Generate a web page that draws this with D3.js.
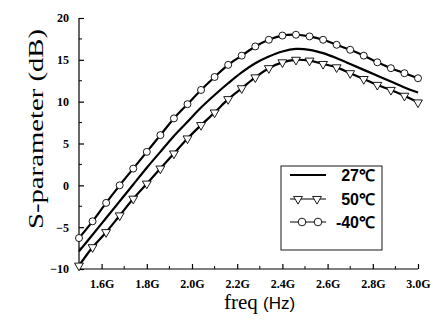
<!DOCTYPE html>
<html>
<head>
<meta charset="utf-8">
<script src="https://cdn.jsdelivr.net/npm/d3@7"></script>
<style>
  body { margin: 0; background: #fff; }
  svg { display: block; }
</style>
</head>
<body>
<script>
const freqs = [1.50, 1.56, 1.62, 1.68, 1.74, 1.80, 1.86, 1.92, 1.98, 2.04, 2.10, 2.16, 2.22,
               2.28, 2.34, 2.40, 2.46, 2.52, 2.58, 2.64, 2.70, 2.76, 2.82, 2.88, 2.94, 3.00];
const s27  = [-7.9, -5.9, -3.9, -1.9, 0.1, 2.1, 4.0, 5.9, 7.6, 9.3, 10.8, 12.2, 13.5,
              14.6, 15.4, 16.0, 16.3, 16.2, 15.8, 15.2, 14.5, 13.8, 13.1, 12.4, 11.7, 11.1];
const s50  = [-9.6, -7.4, -5.6, -3.6, -1.6, 0.2, 2.0, 3.8, 5.6, 7.2, 8.7, 10.3, 11.6,
              12.9, 14.0, 14.7, 15.0, 14.9, 14.5, 14.1, 13.4, 12.7, 12.0, 11.4, 10.7, 9.9];
const sM40 = [-6.3, -4.3, -2.1, 0.0, 2.0, 4.0, 6.0, 8.0, 9.7, 11.4, 12.95, 14.4, 15.5,
              16.6, 17.4, 17.9, 18.0, 17.8, 17.4, 16.8, 16.2, 15.5, 14.7, 14.0, 13.4, 12.8];
const xTicks = [1.6, 1.8, 2.0, 2.2, 2.4, 2.6, 2.8, 3.0];
const yTicks = [-10, -5, 0, 5, 10, 15, 20];
const seriesNames = ["27\u2103", "50\u2103", "-40\u2103"];

const width = 433, height = 327;
const margin = {left: 79, right: 15, top: 18, bottom: 58};

const svg = d3.select("body").append("svg")
  .attr("width", width)
  .attr("height", height);

const x = d3.scaleLinear().domain([1.5, 3.0]).range([margin.left, width - margin.right]);
const y = d3.scaleLinear().domain([-10, 20]).range([height - margin.bottom, margin.top]);

// axes (ticks point inward)
const xAxis = d3.axisBottom(x).tickValues(xTicks).tickSize(-5).tickPadding(10)
  .tickFormat(d => d.toFixed(1) + "G");
const gx = svg.append("g").attr("transform", `translate(0,${y(-10)})`).call(xAxis);
gx.select(".domain").attr("d", `M${x(1.5)},0H${x(3.0)}`);

const minorX = d3.range(1.7, 3.0, 0.2);
gx.selectAll("line.minor").data(minorX).join("line")
  .attr("class", "minor")
  .attr("x1", d => x(d)).attr("x2", d => x(d))
  .attr("y1", 0).attr("y2", -3)
  .attr("stroke", "#000");

const yAxis = d3.axisLeft(y).tickValues(yTicks).tickSize(-5).tickPadding(10);
const gy = svg.append("g").attr("transform", `translate(${x(1.5)},0)`).call(yAxis);
gy.select(".domain").attr("d", `M0,${y(-10)}V${y(20)}`);

const minorY = d3.range(-7.5, 20, 5);
gy.selectAll("line.minor").data(minorY).join("line")
  .attr("class", "minor")
  .attr("y1", d => y(d)).attr("y2", d => y(d))
  .attr("x1", 0).attr("x2", 3)
  .attr("stroke", "#000");

svg.selectAll(".tick text")
  .style("font-family", "'Liberation Serif', serif")
  .style("font-weight", "bold")
  .style("font-size", "12px")
  .attr("fill", "#000");
svg.selectAll(".domain, .tick line").attr("stroke", "#000").attr("stroke-width", 1.2);

// axis titles
svg.append("text")
  .attr("transform", `translate(43,129) rotate(-90)`)
  .attr("text-anchor", "middle")
  .style("font-family", "'Liberation Serif', serif")
  .style("font-size", "20px")
  .attr("textLength", 200)
  .attr("lengthAdjust", "spacingAndGlyphs")
  .text("S-parameter  (dB)");

const xt = svg.append("text")
  .attr("x", 224).attr("y", 309);
xt.append("tspan").style("font-family", "'Liberation Serif', serif").style("font-size", "21px").text("freq ");
xt.append("tspan").style("font-family", "'Liberation Sans', sans-serif").style("font-size", "17px").text("(Hz)");

// lines
const line = d3.line().x((d, i) => x(freqs[i])).y(d => y(d)).curve(d3.curveCatmullRom);
const plot = svg.append("g");

[s27, s50, sM40].forEach(s => {
  plot.append("path").datum(s)
    .attr("d", line)
    .attr("fill", "none")
    .attr("stroke", "#000")
    .attr("stroke-width", 2.2);
});

const tri = d3.symbol().type(d3.symbolTriangle).size(34);

plot.selectAll("path.tri").data(s50).join("path")
  .attr("class", "tri")
  .attr("d", tri)
  .attr("transform", (d, i) => `translate(${x(freqs[i])},${y(d)}) rotate(180)`)
  .attr("fill", "#fff").attr("stroke", "#000").attr("stroke-width", 0.9);

plot.selectAll("circle.circ").data(sM40).join("circle")
  .attr("class", "circ")
  .attr("cx", (d, i) => x(freqs[i]))
  .attr("cy", d => y(d))
  .attr("r", 3.5)
  .attr("fill", "#fff").attr("stroke", "#000").attr("stroke-width", 0.9);

// legend
const lg = svg.append("g").attr("transform", "translate(281,166)");
lg.append("rect").attr("width", 101).attr("height", 84)
  .attr("fill", "#fff").attr("stroke", "#000").attr("stroke-width", 0.9);

const rows = [9, 33, 56];
seriesNames.forEach((name, i) => {
  const yy = rows[i];
  lg.append("line").attr("x1", 9).attr("x2", 45).attr("y1", yy).attr("y2", yy)
    .attr("stroke", "#000").attr("stroke-width", i === 0 ? 2 : 1);
  if (i === 1) {
    [17, 36].forEach(cx => lg.append("path").attr("d", tri)
      .attr("transform", `translate(${cx},${yy}) rotate(180)`)
      .attr("fill", "#fff").attr("stroke", "#000").attr("stroke-width", 0.9));
  }
  if (i === 2) {
    [21, 37].forEach(cx => lg.append("circle").attr("cx", cx).attr("cy", yy).attr("r", 3.8)
      .attr("fill", "#fff").attr("stroke", "#000").attr("stroke-width", 0.9));
  }
  lg.append("text")
    .attr("x", 94).attr("y", yy + 5.5)
    .attr("text-anchor", "end")
    .style("font-family", "'Liberation Sans', sans-serif")
    .style("font-weight", "bold")
    .style("font-size", "16px")
    .text(name);
});
</script>
</body>
</html>
